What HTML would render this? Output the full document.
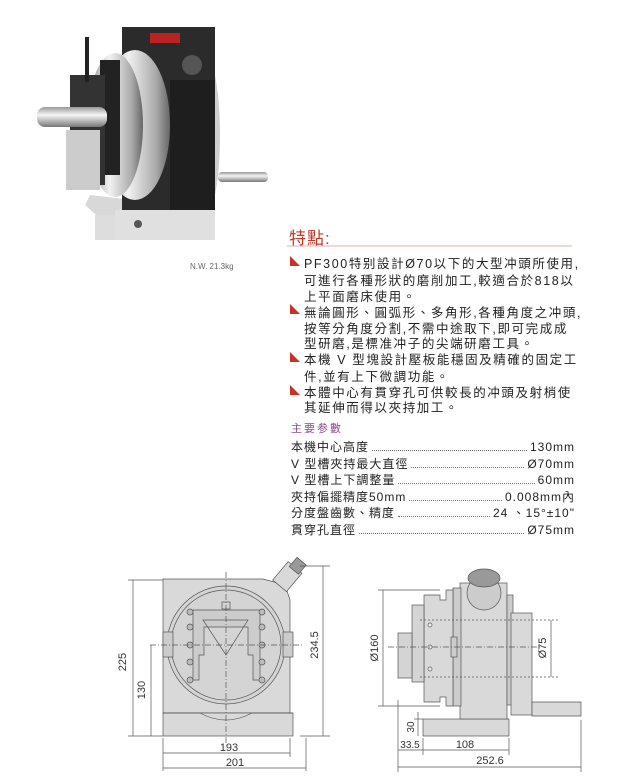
<!DOCTYPE html>
<html><head><meta charset="utf-8"><style>
body{margin:0;width:619px;height:781px;background:#fff;position:relative;overflow:hidden;font-family:"Liberation Sans","Noto Sans CJK TC",sans-serif;}
.t{position:absolute;white-space:nowrap;color:#333;}
.feat{font-size:12.5px;letter-spacing:1.6px;left:304px;color:#222;}
.tri{position:absolute;left:290px;width:0;height:0;border-left:10px solid #c9302c;border-top:10px solid transparent;}
.row{position:absolute;left:291px;width:284px;font-size:12px;letter-spacing:1px;color:#222;display:flex;align-items:baseline;}
.row .d{flex:1;border-bottom:1.5px dotted #777;margin:0 3px 3px 3px;}
</style></head><body>
<svg width="619" height="781" style="position:absolute;left:0;top:0">
<defs>
<linearGradient id="sil" x1="0" y1="0" x2="1" y2="0"><stop offset="0" stop-color="#888"/><stop offset=".4" stop-color="#f2f2f2"/><stop offset=".8" stop-color="#aaa"/><stop offset="1" stop-color="#666"/></linearGradient>
<linearGradient id="shaft" x1="0" y1="0" x2="0" y2="1"><stop offset="0" stop-color="#999"/><stop offset=".4" stop-color="#f5f5f5"/><stop offset="1" stop-color="#777"/></linearGradient>
</defs>
<polygon points="90,195 215,210 215,240 115,232 85,205" fill="#d8d8d8"/>
<rect x="95" y="215" width="120" height="25" fill="#ddd"/>
<ellipse cx="205" cy="135" rx="15" ry="80" fill="#cfcfcf"/>
<rect x="218" y="172" width="50" height="10" rx="4" fill="url(#shaft)"/>
<rect x="122" y="27" width="93" height="198" fill="#2b2b2b"/>
<rect x="170" y="80" width="45" height="145" fill="#1e1e1e"/>
<rect x="150" y="33" width="30" height="10" fill="#b22"/>
<circle cx="192" cy="65" r="10" fill="#555"/>
<ellipse cx="135" cy="125" rx="35" ry="75" fill="url(#sil)"/>
<ellipse cx="115" cy="125" rx="28" ry="72" fill="url(#sil)"/>
<rect x="100" y="60" width="20" height="115" fill="#222"/>
<rect x="70" y="75" width="35" height="110" fill="#333"/>
<rect x="66" y="130" width="34" height="60" fill="#ccc"/>
<rect x="37" y="107" width="70" height="20" rx="8" fill="url(#shaft)"/>
<rect x="85" y="37" width="4" height="45" fill="#222"/>
<rect x="115" y="210" width="100" height="30" fill="#e0e0e0"/>
<circle cx="138" cy="224" r="4" fill="#555"/>
<line x1="287" y1="246" x2="572" y2="246" stroke="#e8c0c0" stroke-width="1.2"/>
<g stroke="#555" fill="none" stroke-width="0.7">
<path d="M163,579 L263,579 L285,585 L290,600 L290,713 L163,713 Z" fill="#d9d9d9"/>
<rect x="163" y="713" width="130" height="23" fill="#d9d9d9"/>
<path d="M163,713 L200,713 Q226,727 252,713 L293,713" />
<g transform="rotate(40 290 575)"><rect x="280" y="566" width="18" height="24" fill="#d9d9d9"/><rect x="284" y="557" width="12" height="12" fill="#999"/></g>
<circle cx="226" cy="645" r="59" fill="#d4d4d4"/>
<circle cx="226" cy="645" r="55"/>
<path d="M193,610 L260,610 L260,680 L253,680 L253,655 L248,655 L248,627 L204,627 L204,655 L199,655 L199,680 L193,680 Z" fill="#ccc"/>
<path d="M203,620 L248,620 L226,655 Z"/>
<rect x="222" y="602" width="8" height="7"/>
<rect x="163" y="632" width="10" height="25" fill="#ccc"/><rect x="283" y="632" width="10" height="25" fill="#ccc"/>
<g fill="#bbb"><circle cx="190" cy="612" r="3"/><circle cx="190" cy="627" r="3"/><circle cx="190" cy="645" r="3"/><circle cx="190" cy="662" r="3"/><circle cx="190" cy="680" r="3"/><circle cx="262" cy="612" r="3"/><circle cx="262" cy="627" r="3"/><circle cx="262" cy="645" r="3"/><circle cx="262" cy="662" r="3"/><circle cx="262" cy="680" r="3"/></g>
<line x1="226" y1="572" x2="226" y2="745" stroke-dasharray="6,2,1,2"/>
<line x1="150" y1="645" x2="303" y2="645" stroke-dasharray="6,2,1,2"/>
<line x1="128" y1="580" x2="163" y2="580"/><line x1="128" y1="736" x2="163" y2="736"/>
<line x1="133" y1="580" x2="133" y2="736"/>
<line x1="151" y1="645" x2="151" y2="736"/>
<line x1="300" y1="566" x2="330" y2="566"/><line x1="300" y1="736" x2="330" y2="736"/>
<line x1="323" y1="566" x2="323" y2="736"/>
<line x1="163" y1="738" x2="163" y2="771"/><line x1="290" y1="738" x2="290" y2="757"/><line x1="306" y1="738" x2="306" y2="771"/>
<line x1="163" y1="753" x2="290" y2="753"/><line x1="163" y1="768" x2="306" y2="768"/>
<rect x="423" y="719" width="86" height="17" fill="#d9d9d9"/>
<rect x="460" y="583" width="47" height="136" fill="#d9d9d9"/>
<rect x="507" y="595" width="6" height="110" fill="#ccc"/>
<rect x="511" y="613" width="21" height="102" fill="#d9d9d9"/>
<path d="M532,702 L581,702 L581,716 L532,716 Z" fill="#d9d9d9"/>
<rect x="453" y="588" width="8" height="118" fill="#ccc"/>
<path d="M424,595 L440,595 L440,600 L446,600 L446,590 L453,590 L453,706 L446,706 L446,697 L440,697 L440,702 L424,702 Z" fill="#d9d9d9"/>
<rect x="412" y="605" width="12" height="77" fill="#d4d4d4"/>
<rect x="398" y="633" width="14" height="45" fill="#d4d4d4"/>
<rect x="451" y="637" width="6" height="20" fill="#ccc"/>
<circle cx="484" cy="593" r="17" fill="#ccc"/>
<ellipse cx="484" cy="578" rx="16" ry="9" fill="#999"/>
<g fill="#eee"><circle cx="430" cy="625" r="2"/><circle cx="430" cy="647" r="2"/><circle cx="430" cy="669" r="2"/></g>
<line x1="388" y1="647" x2="540" y2="647" stroke-dasharray="6,2,1,2"/>
<line x1="420" y1="620" x2="560" y2="620" stroke-dasharray="2,2"/><line x1="420" y1="677" x2="560" y2="677" stroke-dasharray="2,2"/>
<line x1="378" y1="590" x2="440" y2="590"/><line x1="378" y1="706" x2="440" y2="706"/>
<line x1="383" y1="590" x2="383" y2="706"/>
<line x1="551" y1="620" x2="551" y2="677"/>
<line x1="414" y1="719" x2="423" y2="719"/><line x1="418" y1="712" x2="418" y2="736"/>
<line x1="398" y1="700" x2="398" y2="772"/><line x1="423" y1="738" x2="423" y2="755"/><line x1="509" y1="738" x2="509" y2="755"/><line x1="581" y1="720" x2="581" y2="772"/>
<line x1="398" y1="750" x2="509" y2="750"/>
<line x1="398" y1="767" x2="581" y2="767"/>
</g>
<g font-family="Liberation Sans" font-size="11" fill="#333">
<text x="126" y="662" transform="rotate(-90 126 662)" text-anchor="middle">225</text>
<text x="145" y="690" transform="rotate(-90 145 690)" text-anchor="middle">130</text>
<text x="318" y="645" transform="rotate(-90 318 645)" text-anchor="middle">234.5</text>
<text x="229" y="751" text-anchor="middle">193</text>
<text x="235" y="766" text-anchor="middle">201</text>
<text x="378" y="648" transform="rotate(-90 378 648)" text-anchor="middle">Ø160</text>
<text x="546" y="648" transform="rotate(-90 546 648)" text-anchor="middle">Ø75</text>
<text x="414" y="727" transform="rotate(-90 414 727)" text-anchor="middle" font-size="10">30</text>
<text x="410" y="748" text-anchor="middle" font-size="10">33.5</text>
<text x="465" y="748" text-anchor="middle">108</text>
<text x="490" y="764" text-anchor="middle">252.6</text>
</g>
</svg>
<div class="t" style="left:190px;top:262px;font-size:8px;color:#666">N.W. 21.3kg</div>
<div class="t" style="left:289px;top:224px;font-size:17px;color:#c0392b;letter-spacing:1px">特點:</div>
<div class="tri" style="top:256px"></div>
<div class="tri" style="top:304px"></div>
<div class="tri" style="top:352px"></div>
<div class="tri" style="top:385px"></div>
<div class="t feat" style="top:253px">PF300特别設計Ø70以下的大型冲頭所使用,</div>
<div class="t feat" style="top:270px">可進行各種形狀的磨削加工,較適合於818以</div>
<div class="t feat" style="top:286px">上平面磨床使用。</div>
<div class="t feat" style="top:302px">無論圓形、圓弧形、多角形,各種角度之冲頭,</div>
<div class="t feat" style="top:318px">按等分角度分割,不需中途取下,即可完成成</div>
<div class="t feat" style="top:333px">型研磨,是標准冲子的尖端研磨工具。</div>
<div class="t feat" style="top:349px">本機 V 型塊設計壓板能穩固及精確的固定工</div>
<div class="t feat" style="top:366px">件,並有上下微調功能。</div>
<div class="t feat" style="top:382px">本體中心有貫穿孔可供較長的冲頭及射梢使</div>
<div class="t feat" style="top:397px">其延伸而得以夾持加工。</div>
<div class="t" style="left:291px;top:420px;font-size:11px;color:#8a4a8a;letter-spacing:2px">主要参數</div>
<div class="row" style="top:438px"><span>本機中心高度</span><span class="d"></span><span>130mm</span></div>
<div class="row" style="top:455px"><span>V 型槽夾持最大直徑</span><span class="d"></span><span>Ø70mm</span></div>
<div class="row" style="top:471px"><span>V 型槽上下調整量</span><span class="d"></span><span>60mm</span></div>
<div class="row" style="top:488px"><span>夾持偏擺精度50mm</span><span class="d"></span><span>0.008mm內</span></div>
<div class="row" style="top:504px"><span>分度盤齒數、精度</span><span class="d"></span><span>24 、15°±10"</span></div>
<div class="row" style="top:521px"><span>貫穿孔直徑</span><span class="d"></span><span>Ø75mm</span></div>
</body></html>
